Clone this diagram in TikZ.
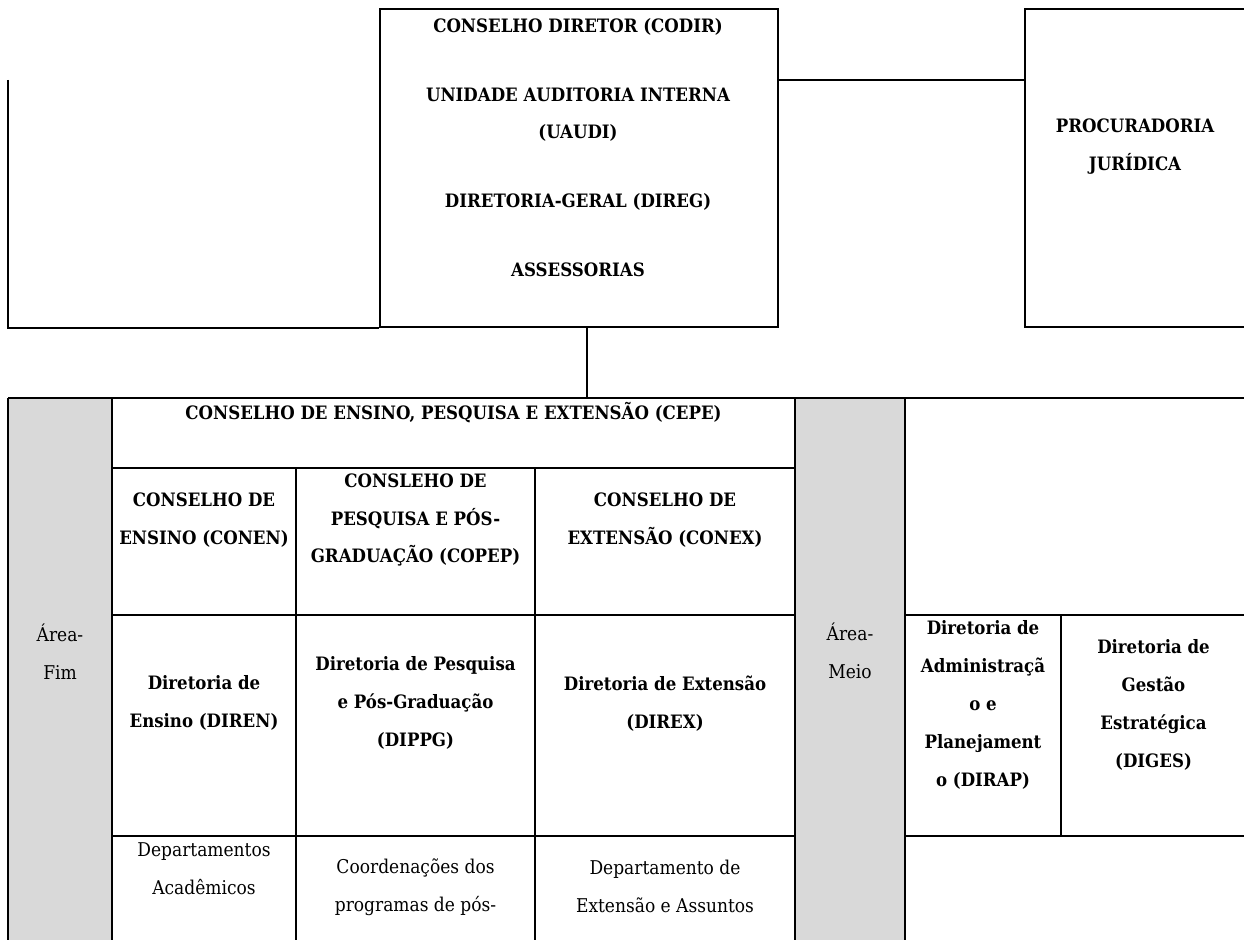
\documentclass[tikz,border=0pt]{standalone}
\usepackage{fontspec}
\setmainfont{DejaVu Serif Condensed}
\usepackage{tikz}
\definecolor{areacinza}{HTML}{D9D9D9}

\begin{document}
\begin{tikzpicture}[line width=1.15pt,
	caixa/.style={draw, line width=1.15pt, inner sep=0pt},
	titulo/.style={font=\bfseries\fontsize{10.5}{21.6}\selectfont, align=center},
	texto/.style={font=\fontsize{10.8}{21.6}\selectfont, align=center}]
	\useasboundingbox (0,0) rectangle (24.88,-18.8);
	\clip (0,0) rectangle (24.88,-18.8);
	% topo: conselho diretor e procuradoria
	\node[caixa, minimum width=7.96cm, minimum height=6.36cm] (codir) at (11.58,-3.36) {};
	\node[titulo] (codirtxt) at (11.56,-2.95) {CONSELHO DIRETOR (CODIR)\\[17.5pt]
	  UNIDADE AUDITORIA INTERNA\\(UAUDI)\\[17.5pt]
	  DIRETORIA-GERAL (DIREG)\\[17.5pt]
	  ASSESSORIAS};
	\node[caixa, minimum width=5cm, minimum height=6.36cm] (procbox) at (23,-3.36) {};
	\node[titulo] (proctxt) at (22.7,-2.94) {PROCURADORIA\\JURÍDICA};
	\draw (0.16,-1.6) |- (codir.south west);
	\coordinate (ligproc) at (0,-1.6);
	\draw (codir.east |- ligproc) -- (procbox.west |- ligproc);
	\coordinate (cepetopo) at (11.74,-7.96);
	\draw (codir.south -| cepetopo) -- (cepetopo);
	% tabela
	\fill[areacinza] (0.16,-7.96) rectangle (2.24,-19.5);
	\fill[areacinza] (15.9,-7.96) rectangle (18.1,-19.5);
	\draw (0.16,-7.96) -- (25.5,-7.96);
	\draw (2.24,-9.36) -- (15.9,-9.36);
	\draw (2.24,-12.3) -- (15.9,-12.3) (18.1,-12.3) -- (25.5,-12.3);
	\draw (2.24,-16.72) -- (15.9,-16.72) (18.1,-16.72) -- (25.5,-16.72);
	\foreach \x in {0.16,2.24,15.9,18.1}
	  \draw (\x,-7.96) -- (\x,-19.5);
	\foreach \x in {5.92,10.7}
	  \draw (\x,-9.36) -- (\x,-19.5);
	\draw (21.22,-12.3) -- (21.22,-16.72);
	% textos da tabela
	\node[titulo] (cepe) at (9.07,-8.26) {CONSELHO DE ENSINO, PESQUISA E EXTENSÃO (CEPE)};
	\node[titulo] (conen) at (4.08,-10.4) {CONSELHO DE\\ENSINO (CONEN)};
	\node[titulo] (copep) at (8.31,-10.4) {CONSLEHO DE\\PESQUISA E PÓS-\\GRADUAÇÃO (COPEP)};
	\node[titulo] (conex) at (13.3,-10.41) {CONSELHO DE\\EXTENSÃO (CONEX)};
	\node[texto] (areafim) at (1.2,-13.03) {Área-\\Fim};
	\node[titulo] (diren) at (4.08,-14.06) {Diretoria de\\Ensino (DIREN)};
	\node[titulo] (dippg) at (8.31,-14.06) {Diretoria de Pesquisa\\e Pós-Graduação\\(DIPPG)};
	\node[titulo] (direx) at (13.3,-14.08) {Diretoria de Extensão\\(DIREX)};
	\node[texto] (areameio) at (17,-13.02) {Área-\\Meio};
	\node[titulo] (dirap) at (19.66,-14.1) {Diretoria de\\Administraçã\\o e\\Planejament\\o (DIRAP)};
	\node[titulo] (diges) at (23.07,-14.09) {Diretoria de\\Gestão\\Estratégica\\(DIGES)};
	\node[texto] (deptos) at (4.08,-17.38) {Departamentos\\Acadêmicos};
	\node[texto] (coords) at (8.31,-17.75) {Coordenações dos\\programas de pós-};
	\node[texto] (deptoext) at (13.3,-17.72) {Departamento de\\Extensão e Assuntos};
\end{tikzpicture}
\end{document}
